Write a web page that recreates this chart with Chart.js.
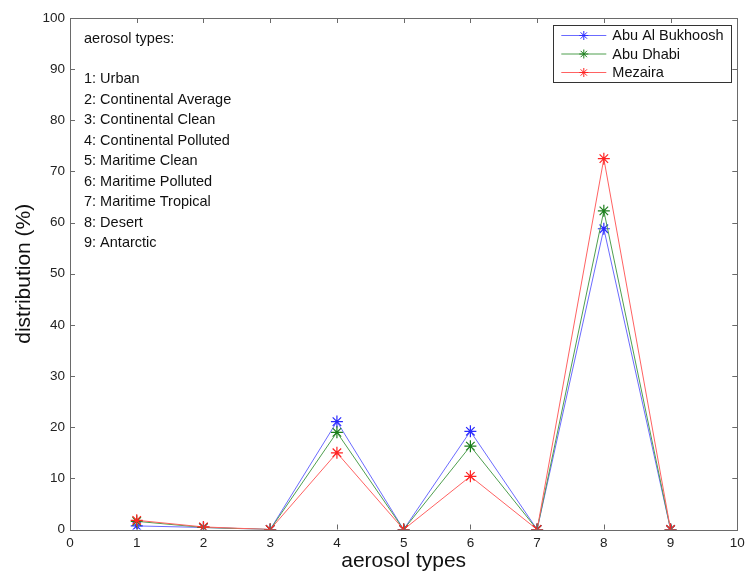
<!DOCTYPE html>
<html>
<head>
<meta charset="utf-8">
<script src="https://cdn.jsdelivr.net/npm/chart.js@4"></script>
<style>
  html, body { margin: 0; padding: 0; background: #fff; }
  #wrap { position: relative; width: 745px; height: 572px; }
</style>
</head>
<body>
<div id="wrap"><canvas id="chart"></canvas></div>
<script>
// values
const aerosolTypes = [1, 2, 3, 4, 5, 6, 7, 8, 9];
const typeNames = [
    "Urban", "Continental Average", "Continental Clean", "Continental Polluted",
    "Maritime Clean", "Maritime Polluted", "Maritime Tropical", "Desert", "Antarctic",
];
const abuAlBukhoosh = [0.7, 0.4, 0, 21.1, 0, 19.2, 0, 58.8, 0];
const abuDhabi = [1.6, 0.4, 0, 19.0, 0, 16.3, 0, 62.3, 0];
const mezaira = [1.8, 0.5, 0, 15.0, 0, 10.4, 0, 72.5, 0];
const xTicks = [0, 1, 2, 3, 4, 5, 6, 7, 8, 9, 10];
const yTicks = [0, 10, 20, 30, 40, 50, 60, 70, 80, 90, 100];

const FONT = "Arial, 'Liberation Sans', sans-serif";

function series(label, values, line, mark, order) {
    return {
        label,
        data: aerosolTypes.map((x, i) => ({ x, y: values[i] })),
        borderColor: line,
        borderWidth: 1,
        pointStyle: "star",
        pointRadius: 6,
        pointBorderWidth: 1.2,
        pointBorderColor: mark,
        pointBackgroundColor: mark,
        markColor: mark,
        order,
    };
}

const datasets = [
    series("Abu Al Bukhoosh", abuAlBukhoosh, "#6b6bff", "#2a2aff", 2),
    series("Abu Dhabi", abuDhabi, "#4f9f4f", "#1c7f1c", 1),
    series("Mezaira", mezaira, "#ff6262", "#ff2424", 0),
];

// asterisk marker, same shape as the plotted points
function asterisk(ctx, x, y, r) {
    const d = r * Math.SQRT1_2;
    ctx.beginPath();
    ctx.moveTo(x - r, y); ctx.lineTo(x + r, y);
    ctx.moveTo(x, y - r); ctx.lineTo(x, y + r);
    ctx.moveTo(x - d, y - d); ctx.lineTo(x + d, y + d);
    ctx.moveTo(x - d, y + d); ctx.lineTo(x + d, y - d);
    ctx.stroke();
}

// MATLAB-like frame: box, inward ticks on all sides, text note, legend
const matlabFrame = {
    id: "matlabFrame",
    afterDraw(chart) {
        const { ctx, chartArea: a, scales } = chart;
        const tl = 5;
        ctx.save();
        ctx.strokeStyle = "#6a6a6a";
        ctx.lineWidth = 1;
        ctx.beginPath();
        xTicks.forEach((v) => {
            const px = Math.round(scales.x.getPixelForValue(v)) + 0.5;
            ctx.moveTo(px, a.bottom); ctx.lineTo(px, a.bottom - tl);
            ctx.moveTo(px, a.top); ctx.lineTo(px, a.top + tl);
        });
        yTicks.forEach((v) => {
            const py = Math.round(scales.y.getPixelForValue(v)) + 0.5;
            ctx.moveTo(a.left, py); ctx.lineTo(a.left + tl, py);
            ctx.moveTo(a.right, py); ctx.lineTo(a.right - tl, py);
        });
        ctx.stroke();
        ctx.strokeRect(Math.round(a.left) + 0.5, Math.round(a.top) + 0.5,
            Math.round(a.right - a.left), Math.round(a.bottom - a.top));

        // text note, upper left
        ctx.fillStyle = "#111";
        ctx.font = "14.5px " + FONT;
        ctx.textBaseline = "middle";
        ctx.textAlign = "left";
        ctx.fillText("aerosol types:", a.left + 14, a.top + 21);
        typeNames.forEach((name, i) => {
            ctx.fillText(aerosolTypes[i] + ": " + name, a.left + 14, a.top + 61 + i * 20.5);
        });

        // legend, upper right
        const bx = a.right - 184, by = a.top + 7, bw = 178, bh = 57;
        ctx.fillStyle = "#fff";
        ctx.fillRect(bx, by, bw, bh);
        ctx.strokeStyle = "#333";
        ctx.strokeRect(Math.round(bx) + 0.5, Math.round(by) + 0.5, bw, bh);
        datasets.forEach((ds, i) => {
            const y = by + 10.5 + i * 18.5;
            ctx.strokeStyle = ds.borderColor;
            ctx.lineWidth = 1;
            ctx.beginPath();
            ctx.moveTo(bx + 8, y); ctx.lineTo(bx + 53, y);
            ctx.stroke();
            ctx.strokeStyle = ds.markColor;
            asterisk(ctx, bx + 30.5, y, 4.5);
            ctx.fillStyle = "#111";
            ctx.fillText(ds.label, bx + 59, y + 0.5);
        });
        ctx.restore();
    },
};

new Chart(document.getElementById("chart"), {
    type: "line",
    data: { datasets },
    options: {
        responsive: true,
        maintainAspectRatio: false,
        animation: false,
        layout: { padding: { top: 18, right: 7.7, left: 0, bottom: 0 } },
        plugins: { legend: { display: false }, tooltip: { enabled: false } },
        scales: {
            x: {
                type: "linear",
                min: 0,
                max: 10,
                afterBuildTicks: (s) => { s.ticks = xTicks.map((v) => ({ value: v })); },
                afterFit: (s) => {
                    s.height = 42.5;
                    // the "10" label may hang past the frame, as in the original
                    s.paddingLeft = 0;
                    s.paddingRight = 0;
                },
                grid: { display: false, drawTicks: false },
                border: { display: false },
                ticks: { padding: 6, color: "#222", font: { family: FONT, size: 13.5 } },
                title: {
                    display: true,
                    text: "aerosol types",
                    color: "#111",
                    padding: { top: 0, bottom: 0 },
                    font: { family: FONT, size: 21, lineHeight: 1 },
                },
            },
            y: {
                min: 0,
                max: 100,
                afterBuildTicks: (s) => { s.ticks = yTicks.map((v) => ({ value: v })); },
                afterFit: (s) => { s.width = 70; },
                grid: { display: false, drawTicks: false },
                border: { display: false },
                ticks: { padding: 5, color: "#222", font: { family: FONT, size: 13.5 } },
                title: {
                    display: true,
                    text: "distribution (%)",
                    color: "#111",
                    padding: { top: 13.5, bottom: 0 },
                    font: { family: FONT, size: 21, lineHeight: 1 },
                },
            },
        },
    },
    plugins: [matlabFrame],
});
</script>
</body>
</html>
